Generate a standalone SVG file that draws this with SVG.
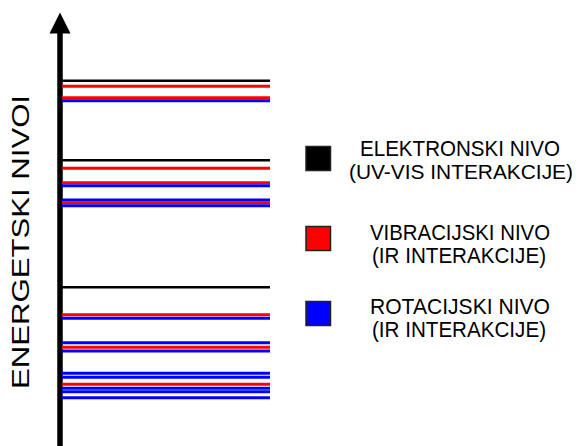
<svg xmlns="http://www.w3.org/2000/svg" width="579" height="446" viewBox="0 0 579 446">
<style>
.k{stroke:#000;stroke-width:2.6}
.r{stroke:#ff0000;stroke-width:3}
.b{stroke:#0000ff;stroke-width:3}
.t{font-family:"Liberation Sans",Arial,sans-serif;font-size:22.5px;fill:#000}
.v{font-family:"Liberation Sans",Arial,sans-serif;font-size:23px;fill:#000}
.sq{stroke:#222;stroke-width:1.5}
</style>
<rect width="579" height="446" fill="#fff"/>
<g id="axis">
<line x1="60" y1="30" x2="60" y2="446" stroke="#000" stroke-width="5.5"/>
<polygon points="60,12.5 49.5,33.5 70.5,33.5" fill="#000"/>
<text class="v" transform="translate(29,389) rotate(-90)" textLength="294" lengthAdjust="spacingAndGlyphs">ENERGETSKI NIVOI</text>
</g>
<g id="levels">
<line class="k" x1="62" y1="80.7" x2="270" y2="80.7"/>
<line class="r" x1="62" y1="86.3" x2="270" y2="86.3"/>
<line class="r" x1="62" y1="97.7" x2="270" y2="97.7"/>
<line class="b" x1="62" y1="100.7" x2="270" y2="100.7"/>
<line class="k" x1="62" y1="160.3" x2="270" y2="160.3"/>
<line class="r" x1="62" y1="168.3" x2="270" y2="168.3"/>
<line class="r" x1="62" y1="182.7" x2="270" y2="182.7"/>
<line class="b" x1="62" y1="185.7" x2="270" y2="185.7"/>
<line class="b" x1="62" y1="200" x2="270" y2="200"/>
<line class="r" x1="62" y1="202.7" x2="270" y2="202.7"/>
<line class="b" x1="62" y1="205.7" x2="270" y2="205.7"/>
<line class="k" x1="62" y1="287.3" x2="270" y2="287.3"/>
<line class="r" x1="62" y1="314.7" x2="270" y2="314.7"/>
<line class="b" x1="62" y1="318.3" x2="270" y2="318.3"/>
<line class="b" x1="62" y1="342.7" x2="270" y2="342.7"/>
<line class="r" x1="62" y1="347.3" x2="270" y2="347.3"/>
<line class="b" x1="62" y1="351" x2="270" y2="351"/>
<line class="b" x1="62" y1="373.3" x2="270" y2="373.3"/>
<line class="b" x1="62" y1="377.3" x2="270" y2="377.3"/>
<line class="r" x1="62" y1="384.3" x2="270" y2="384.3"/>
<line class="b" x1="62" y1="388.3" x2="270" y2="388.3"/>
<line class="b" x1="62" y1="391.7" x2="270" y2="391.7"/>
<line class="b" x1="62" y1="397.7" x2="270" y2="397.7"/>
</g>
<g id="legend-electronic">
<rect class="sq" x="306" y="146.5" width="24.5" height="24" fill="#000"/>
<text class="t" x="360" y="156" textLength="200" lengthAdjust="spacingAndGlyphs">ELEKTRONSKI NIVO</text>
<text class="t" x="349" y="179" style="font-size:21px" textLength="224" lengthAdjust="spacingAndGlyphs">(UV-VIS INTERAKCIJE)</text>
</g>
<g id="legend-vibrational">
<rect class="sq" x="306" y="226.5" width="24.5" height="24" fill="#ff0000"/>
<text class="t" x="370" y="240" textLength="180" lengthAdjust="spacingAndGlyphs">VIBRACIJSKI NIVO</text>
<text class="t" x="372" y="263" textLength="174" lengthAdjust="spacingAndGlyphs">(IR INTERAKCIJE)</text>
</g>
<g id="legend-rotational">
<rect class="sq" x="306" y="301.5" width="24.5" height="24" fill="#0000ff"/>
<text class="t" x="370" y="314" textLength="180" lengthAdjust="spacingAndGlyphs">ROTACIJSKI NIVO</text>
<text class="t" x="372" y="337" textLength="174" lengthAdjust="spacingAndGlyphs">(IR INTERAKCIJE)</text>
</g>
</svg>
